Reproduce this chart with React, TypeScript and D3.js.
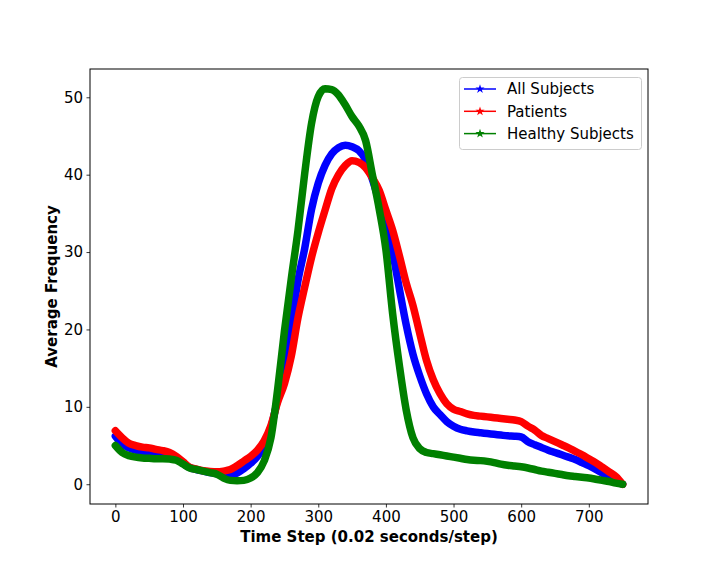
import React, { useEffect, useRef } from "react";
import * as d3 from "d3";

// time steps sampled every 10 steps
const timeSteps = d3.range(0, 751, 10);

const allSubjects = [
  6.2, 5.2, 4.7, 4.4, 4.2, 4.1, 4.0, 3.9, 3.7, 3.3,
  2.7, 2.15, 1.9, 1.7, 1.5, 1.35, 1.2, 1.2, 1.45, 2.0,
  2.7, 3.6, 5.0, 7.3, 11.0, 14.8, 20.5, 26.3, 30.5, 35.5,
  38.9, 41.2, 42.7, 43.5, 43.8, 43.6, 43.1, 41.9, 39.4, 36.6,
  34.2, 30.0, 25.2, 20.6, 16.8, 14.0, 11.7, 10.0, 9.0, 8.1,
  7.5, 7.1, 6.9, 6.75, 6.65, 6.55, 6.45, 6.35, 6.25, 6.2,
  6.1, 5.5, 5.1, 4.75, 4.4, 4.1, 3.8, 3.5, 3.2, 2.8,
  2.4, 1.95, 1.4, 0.85, 0.35, 0,
];

const patients = [
  6.9, 6.0, 5.3, 5.0, 4.8, 4.7, 4.5, 4.35, 4.1, 3.6,
  2.9, 2.2, 1.95, 1.75, 1.65, 1.6, 1.7, 1.9, 2.4, 3.0,
  3.6, 4.4, 5.6, 7.6, 10.6, 13.0, 16.5, 21.5, 25.5, 29.3,
  32.5, 35.4, 38.2, 40.0, 41.2, 41.8, 41.6, 40.9, 39.6, 38.0,
  35.4, 32.8, 29.5, 26.0, 23.1, 19.5, 16.0, 13.5, 11.7, 10.4,
  9.7, 9.4, 9.1, 8.9, 8.8, 8.7, 8.6, 8.5, 8.4, 8.3,
  8.1, 7.5, 7.0, 6.3, 5.9, 5.5, 5.1, 4.7, 4.25, 3.8,
  3.3, 2.8, 2.2, 1.6, 1.0, 0,
];

const healthy = [
  5.0, 4.1, 3.7, 3.5, 3.4, 3.35, 3.3, 3.3, 3.25, 3.1,
  2.6, 2.1, 1.9, 1.7, 1.5, 1.3, 0.8, 0.5, 0.45, 0.5,
  0.8, 1.5, 3.0, 6.0, 12.3, 19.8, 26.5, 32.8, 40.2, 46.6,
  50.1, 51.1, 51.0, 50.3, 49.0, 47.5, 46.3, 44.4, 40.0, 35.6,
  30.3, 22.0, 15.3, 9.6, 6.0, 4.6, 4.1, 3.95, 3.8, 3.65,
  3.5, 3.35, 3.2, 3.1, 3.05, 2.95, 2.8, 2.6, 2.45, 2.35,
  2.25, 2.1, 1.9, 1.7, 1.55, 1.4, 1.25, 1.1, 1.0, 0.9,
  0.8, 0.65, 0.5, 0.35, 0.15, 0,
];

const seriesNames = ["All Subjects", "Patients", "Healthy Subjects"];
const seriesColors = ["#0000ff", "#ff0000", "#008000"];
const xTicks = [0, 100, 200, 300, 400, 500, 600, 700];
const yTicks = [0, 10, 20, 30, 40, 50];

const FONT = "'DejaVu Sans', sans-serif";

const App: React.FC = () => {
  const svgRef = useRef<SVGSVGElement | null>(null);

  useEffect(() => {
    if (!svgRef.current) return;
    const width = 720;
    const height = 576;
    const margin = { top: 69, right: 72, bottom: 72, left: 90 };

    const svg = d3.select(svgRef.current);
    svg.selectAll("*").remove();
    svg.attr("width", width).attr("height", height);

    const series = [allSubjects, patients, healthy];

    // matplotlib-style 5% margins
    const xMin = d3.min(timeSteps)!;
    const xMax = d3.max(timeSteps)!;
    const xPad = (xMax - xMin) * 0.05;
    const yMin = d3.min(series, (s) => d3.min(s))!;
    const yMax = d3.max(series, (s) => d3.max(s))!;
    const yPad = (yMax - yMin) * 0.05;

    const x = d3
      .scaleLinear()
      .domain([xMin - xPad, xMax + xPad])
      .range([margin.left, width - margin.right]);
    const y = d3
      .scaleLinear()
      .domain([yMin - yPad, yMax + yPad])
      .range([height - margin.bottom, margin.top]);

    // thick bands (dense star markers in the original)
    const line = d3
      .line<number>()
      .x((_, i) => x(timeSteps[i]))
      .y((d) => y(d))
      .curve(d3.curveMonotoneX);

    series.forEach((s, k) => {
      svg
        .append("path")
        .datum(s)
        .attr("d", line)
        .attr("fill", "none")
        .attr("stroke", seriesColors[k])
        .attr("stroke-width", 7.5)
        .attr("stroke-linejoin", "round")
        .attr("stroke-linecap", "round");
    });

    // axes frame
    svg
      .append("rect")
      .attr("x", margin.left)
      .attr("y", margin.top)
      .attr("width", width - margin.left - margin.right)
      .attr("height", height - margin.top - margin.bottom)
      .attr("fill", "none")
      .attr("stroke", "#000")
      .attr("stroke-width", 1);

    const xAxis = svg
      .append("g")
      .attr("transform", `translate(0, ${height - margin.bottom})`)
      .call(d3.axisBottom(x).tickValues(xTicks).tickSize(3.5).tickPadding(3.5));
    const yAxis = svg
      .append("g")
      .attr("transform", `translate(${margin.left}, 0)`)
      .call(d3.axisLeft(y).tickValues(yTicks).tickSize(3.5).tickPadding(3.5));

    [xAxis, yAxis].forEach((g) => {
      g.select(".domain").remove();
      g.selectAll("line").attr("stroke", "#000").attr("stroke-width", 0.8);
      g.selectAll("text")
        .style("font-family", FONT)
        .style("font-size", "15px")
        .attr("fill", "#000");
    });

    // axis labels
    svg
      .append("text")
      .attr("x", (margin.left + width - margin.right) / 2)
      .attr("y", 542)
      .attr("text-anchor", "middle")
      .style("font-family", FONT)
      .style("font-size", "15px")
      .style("font-weight", "bold")
      .text("Time Step (0.02 seconds/step)");

    svg
      .append("text")
      .attr("transform", `translate(57, ${(margin.top + height - margin.bottom) / 2}) rotate(-90)`)
      .attr("text-anchor", "middle")
      .style("font-family", FONT)
      .style("font-size", "15px")
      .style("font-weight", "bold")
      .text("Average Frequency");

    // legend
    const legend = svg.append("g");
    legend
      .append("rect")
      .attr("x", 459.5)
      .attr("y", 77.5)
      .attr("width", 182)
      .attr("height", 72)
      .attr("rx", 3)
      .attr("fill", "#fff")
      .attr("fill-opacity", 0.8)
      .attr("stroke", "#cccccc")
      .attr("stroke-width", 1);

    const star = d3.symbol().type(d3.symbolStar).size(26);
    seriesNames.forEach((name, k) => {
      const cy = 89 + k * 22.3;
      legend
        .append("line")
        .attr("x1", 464)
        .attr("x2", 496)
        .attr("y1", cy)
        .attr("y2", cy)
        .attr("stroke", seriesColors[k])
        .attr("stroke-width", 1.5);
      legend
        .append("path")
        .attr("d", star()!)
        .attr("transform", `translate(480, ${cy})`)
        .attr("fill", seriesColors[k]);
      legend
        .append("text")
        .attr("x", 507)
        .attr("y", cy)
        .attr("dy", "0.35em")
        .style("font-family", FONT)
        .style("font-size", "15px")
        .attr("fill", "#000")
        .text(name);
    });
  }, []);

  return (
    <div style={{ position: "absolute", left: 0, top: 0, width: 720, height: 576, background: "#fff" }}>
      <svg ref={svgRef}></svg>
    </div>
  );
};

export default App;
